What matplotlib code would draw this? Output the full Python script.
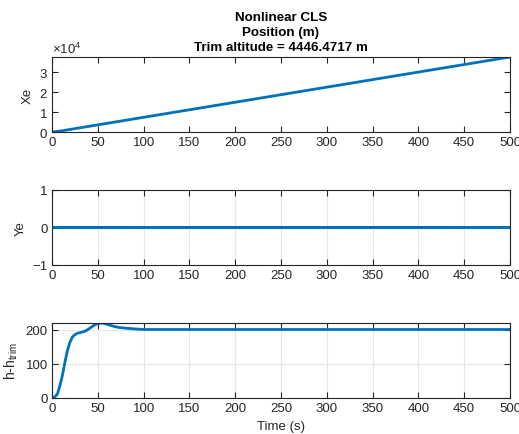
import matplotlib

matplotlib.use("Agg")

import matplotlib.pyplot as plt
import numpy as np
from matplotlib.ticker import ScalarFormatter

plt.rcParams["font.family"] = ["Liberation Sans", "DejaVu Sans"]
plt.rcParams["mathtext.default"] = "regular"

# --- data ---
t_xe = [0, 10, 25, 50, 100, 150, 200, 250, 300, 350, 400, 450, 500]
xe = [0, 550, 1700, 3600, 7400, 11200, 15000, 18800, 22600, 26400, 30200, 34000, 37800]

t_ye = [0, 500]
ye = [0, 0]

t_dh = [0, 3, 5.9, 8.5, 11.3, 14, 16.8, 19.5, 22.2, 25, 27.7, 31, 34.9, 38, 40.4,
        44, 47.6, 51, 54.9, 59, 64, 68, 73, 80, 89, 100, 150, 200, 300, 400, 500]
dh = [0, 3, 11.7, 35, 65, 103, 138, 162, 178, 185, 189, 191, 194, 198, 202,
      209, 215, 218, 219, 216, 212, 209, 206, 204, 202, 200, 200, 200, 200, 200, 200]

xticks = np.arange(0, 501, 50)

LINE = "#0072BD"
AXC = "#262626"
GRID = "#e6e6e6"

fig = plt.figure(figsize=(5.19, 4.35), dpi=100)
left, width, height = 52 / 519, 458 / 519, 75 / 435
bottoms = [1 - 133 / 435, 1 - 265.7 / 435, 1 - 399 / 435]
axes = [fig.add_axes([left, b, width, height]) for b in bottoms]


def style(ax, grid):
    ax.set_xlim(0, 500)
    ax.set_xticks(xticks)
    for s in ax.spines.values():
        s.set_color(AXC)
        s.set_linewidth(0.8)
    ax.tick_params(direction="in", top=True, right=True, length=4, width=0.8,
                   colors=AXC, labelsize=9.5, pad=3)
    if grid:
        ax.grid(True, color=GRID, linewidth=0.8)
        ax.set_axisbelow(True)


ax1, ax2, ax3 = axes

ax1.plot(t_xe, xe, color=LINE, linewidth=2)
ax1.set_ylim(0, max(xe))
ax1.set_yticks([0, 10000, 20000, 30000])
fmt = ScalarFormatter(useMathText=True)
fmt.set_powerlimits((0, 0))
ax1.yaxis.set_major_formatter(fmt)
ax1.yaxis.get_offset_text().set_fontsize(9.5)
ax1.yaxis.get_offset_text().set_color("#555555")
ax1.set_ylabel("Xe", fontsize=9.5, color=AXC)
style(ax1, grid=False)
ax1.set_title("Nonlinear CLS\nPosition (m)\nTrim altitude = 4446.4717 m",
              fontsize=9.6, fontweight="bold", color="black", linespacing=1.33, pad=5)

ax2.plot(t_ye, ye, color=LINE, linewidth=2.2)
ax2.set_ylim(-1, 1)
ax2.set_yticks([-1, 0, 1])
ax2.set_ylabel("Ye", fontsize=9.5, color=AXC)
style(ax2, grid=True)

ax3.plot(t_dh, dh, color=LINE, linewidth=2)
ax3.set_ylim(0, max(dh))
ax3.set_yticks([0, 100, 200])
ax3.set_ylabel("h-h$_{trim}$", fontsize=10, color=AXC)
ax3.set_xlabel("Time (s)", fontsize=9.5, color=AXC)
style(ax3, grid=True)

fig.savefig("out.png", dpi=100)
